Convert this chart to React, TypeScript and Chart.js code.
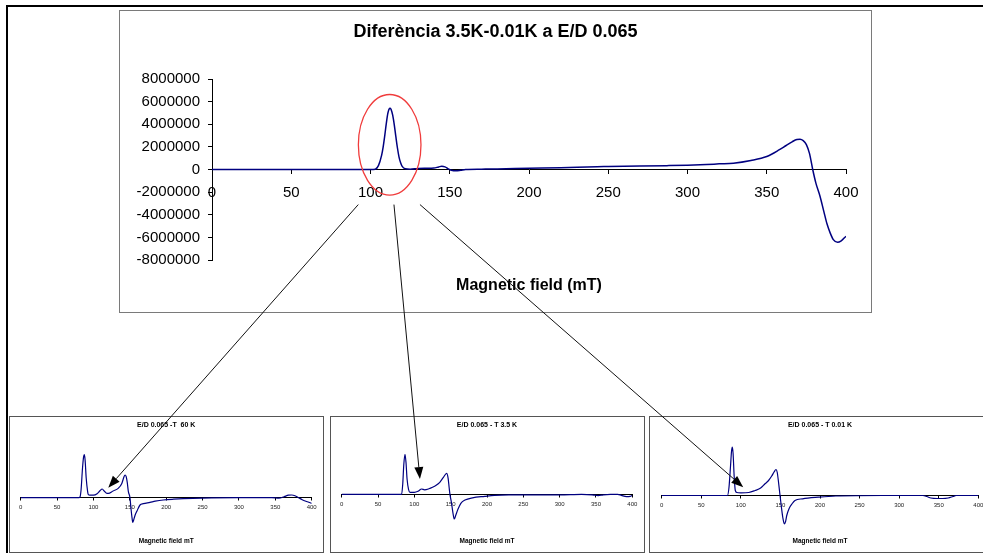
import React, { useEffect, useRef } from 'react';
import { Chart, registerables } from 'chart.js';

Chart.register(...registerables);

const FONT = '"Liberation Sans", Arial, Helvetica, sans-serif';
const NAVY = '#000080';

// ---------- main chart data ----------
const mainTitle = 'Diferència 3.5K-0.01K a E/D 0.065';
const mainAxisTitle = 'Magnetic field (mT)';
const mainXMin = 0;
const mainXMax = 400;
const mainXStep = 50;
const mainYMin = -8000000;
const mainYMax = 8000000;
const mainYStep = 2000000;

const mainField = [
  0, 50, 100, 103, 105, 107, 108, 109, 110, 111, 112, 112.5, 113, 114, 115, 116, 117, 118, 119, 120, 122, 125,
  130, 135, 140, 143, 145, 147, 149, 151, 154, 157, 160, 170, 180, 200, 220, 243, 250, 270, 287, 300, 312, 320, 329,
  340, 350, 358, 362, 366, 369, 371, 373, 375, 377, 379, 381, 383.6, 386, 388, 390, 392, 394.7, 397, 400,
];
const mainSignal = [
  0, 0, 0, 30000, 340000, 1250000, 2000000, 3000000, 4100000, 5000000, 5400000, 5420000, 5300000, 4800000, 3950000,
  2900000, 1900000, 1100000, 600000, 280000, 60000, 20000,
  90000, 110000, 130000, 230000, 290000, 230000, 60000, -60000, -115000, -60000, 0, 30000, 50000, 110000, 160000,
  250000, 260000, 300000, 340000, 380000, 440000, 500000, 560000,
  800000, 1150000, 1750000, 2100000, 2450000, 2650000, 2670000, 2550000, 2200000, 1400000, 0,
  -1200000, -2360000, -3700000, -4800000, -5600000, -6200000, -6440000, -6300000, -5900000,
];

// red ellipse highlighting the peak (data units of the main chart)
const ellipseCenterField = 112.1;
const ellipseCenterSignal = 2180000;
const ellipseHalfWidthField = 19.75;
const ellipseHalfHeightSignal = 4450000;

// ---------- small charts data (arbitrary units) ----------
const smallTitles = ['E/D 0.065 -T  60 K', 'E/D 0.065 - T 3.5 K', 'E/D 0.065 - T 0.01 K'];
const smallAxisTitle = 'Magnetic field mT';

const field60K = [
  0, 80, 81.6, 83, 85, 86.5, 87.4, 88.5, 90, 92, 93, 95, 100, 105, 109, 112, 115, 118, 120.4, 127, 134, 139,
  142, 143.4, 145, 146.5, 148, 150.2, 151.5, 153, 154, 155, 157, 160, 164, 168.5, 177.7, 185, 196, 210, 223.5, 300,
  345, 355, 362, 368, 372.5, 377, 382, 387, 392, 396, 400,
];
const signal60K = [
  0, 0, 1, 8, 30, 41, 43, 38, 20, 6, 3, 2.5, 2.5, 4, 7, 8.7, 6.5, 4.5, 4.3, 6.7, 9.3, 14.3,
  21, 22.7, 21, 15, 6, 0, -10, -20, -24.6, -23, -18, -13, -7.3, -6, -4.7, -3.5, -2.3, -1.5, -1, 0,
  0, -0.5, 1, 2.5, 2.7, 2, 0, -2, -3.5, -4.5, -5.7,
];

const field3p5K = [
  0, 82.5, 84, 85.5, 87.1, 88.5, 90, 92, 94, 100, 105, 110, 114, 120, 125, 130, 135, 140, 144.5, 146.5, 148, 149,
  151, 153, 155, 157, 160, 164, 169.7, 180, 197, 210, 230, 300, 330, 345, 353, 360, 370, 380, 385, 392, 397, 400,
];
const signal3p5K = [
  0, 0, 10, 30, 40, 32, 15, 5, 2, 2, 3, 5.3, 4.5, 5.5, 7, 9, 12, 17, 21, 16, 6, 0,
  -8, -18, -24.7, -21, -15, -9, -5.7, -3.5, -2, -1, -0.5, -0.5, 0, -0.5, -1.3, -0.5, 0, 0, -1, -2.3, -2, -1,
];

const field0p01K = [
  0, 83, 85, 87, 88.2, 89.2, 90.2, 91.5, 93, 95, 100, 110, 118, 125, 130.5, 135, 139, 142, 144.4, 146, 147.5,
  149.5, 151, 153, 154.9, 156.5, 158, 161, 165, 168.4, 178, 197.8, 220, 280, 330, 335, 340, 348, 355, 362, 368,
  372, 400,
];
const signal0p01K = [
  0, 0, 8, 30, 44, 48.3, 42, 20, 5, 3, 2.7, 3, 5, 7.5, 11.7, 15, 19.5, 23.5, 26, 23, 14,
  0, -10, -22, -28.3, -26, -20, -13, -8, -5, -3.3, -1.7, -0.5, 0, 0, -1, -2.5, -3, -3, -2.5, -1,
  0, 0,
];

// arrows from the main chart to the small charts
const arrowFromField = [92.3, 114.8, 131.2];
const arrowFromSignal = -3100000;
const arrowToField = [120.4, 107.7, 103];
const arrowToSignal = [10, 15.3, 8.3];

const smallSeries = [
  { field: field60K, signal: signal60K },
  { field: field3p5K, signal: signal3p5K },
  { field: field0p01K, signal: signal0p01K },
];

// ---------- layout (page geometry) ----------
const MAIN_BOX = { left: 119, top: 10, width: 753, height: 303 };
const SMALL_BOXES = [
  { left: 9, top: 416, width: 315, height: 137, padL: 10.7, padR: 11.3, axisY: 80.7 },
  { left: 330, top: 416, width: 315, height: 137, padL: 10.7, padR: 11.7, axisY: 77.3 },
  { left: 649, top: 416, width: 345, height: 137, padL: 11.7, padR: 14.7, axisY: 78.5 },
];
const SMALL_AREA_TOP = 18;
const SMALL_AREA_BOTTOM = 112;

function toPoints(xs: number[], ys: number[]) {
  return xs.map((x, i) => ({ x, y: ys[i] }));
}

const ellipsePlugin = {
  id: 'peakEllipse',
  afterDatasetsDraw(chart: any) {
    const { ctx, scales } = chart;
    const cx = scales.x.getPixelForValue(ellipseCenterField);
    const cy = scales.y.getPixelForValue(ellipseCenterSignal);
    const rx = Math.abs(scales.x.getPixelForValue(ellipseCenterField + ellipseHalfWidthField) - cx);
    const ry = Math.abs(scales.y.getPixelForValue(ellipseCenterSignal + ellipseHalfHeightSignal) - cy);
    ctx.save();
    ctx.beginPath();
    ctx.ellipse(cx, cy, rx, ry, 0, 0, Math.PI * 2);
    ctx.strokeStyle = '#f03c3c';
    ctx.lineWidth = 1.3;
    ctx.stroke();
    ctx.restore();
  },
};

function mainConfig(): any {
  return {
    type: 'line',
    data: {
      datasets: [
        {
          data: toPoints(mainField, mainSignal),
          borderColor: NAVY,
          borderWidth: 1.5,
          pointRadius: 0,
          fill: false,
          cubicInterpolationMode: 'monotone',
          xAxisID: 'x',
          yAxisID: 'y',
        },
      ],
    },
    options: {
      animation: false,
      responsive: false,
      layout: { padding: { left: 0, right: 0, top: 0, bottom: 0 } },
      plugins: {
        legend: { display: false },
        tooltip: { enabled: false },
        title: {
          display: true,
          text: mainTitle,
          color: '#000',
          font: { family: FONT, size: 18, weight: 'bold' },
          padding: { top: 10.6, bottom: 35.8 },
        },
        subtitle: {
          display: true,
          text: mainAxisTitle,
          position: 'bottom',
          fullSize: false,
          color: '#000',
          font: { family: FONT, size: 16, weight: 'bold' },
          padding: { top: 16.4, bottom: 16.4 },
        },
      },
      scales: {
        x: {
          type: 'linear',
          min: mainXMin,
          max: mainXMax,
          position: { y: 0 },
          ticks: {
            stepSize: mainXStep,
            color: '#000',
            font: { family: FONT, size: 15 },
            padding: 10,
            maxRotation: 0,
          },
          grid: { drawOnChartArea: false, drawTicks: true, tickLength: 4, color: '#000' },
          border: { display: true, color: '#000', width: 1 },
        },
        y: {
          type: 'linear',
          min: mainYMin,
          max: mainYMax,
          position: 'left',
          afterFit: (s: any) => {
            s.width = 92;
          },
          ticks: {
            stepSize: mainYStep,
            color: '#000',
            font: { family: FONT, size: 15 },
            padding: 8,
            callback: (v: any) => String(v),
          },
          grid: { drawOnChartArea: false, drawTicks: true, tickLength: 4, color: '#000' },
          border: { display: true, color: '#000', width: 1 },
        },
        yr: {
          type: 'linear',
          position: 'right',
          min: mainYMin,
          max: mainYMax,
          afterFit: (s: any) => {
            s.width = 25;
          },
          ticks: { display: false },
          grid: { display: false, drawTicks: false },
          border: { display: false },
        },
      },
    },
    plugins: [ellipsePlugin],
  };
}

function smallConfig(i: number): any {
  const box = SMALL_BOXES[i];
  const series = smallSeries[i];
  const canvasH = box.height - 2;
  const titleSize = 7;
  const titleLH = titleSize * 1.2;
  const titleCenter = 8;
  const subSize = 6.5;
  const subLH = subSize * 1.2;
  const subCenter = 124;
  return {
    type: 'line',
    data: {
      datasets: [
        {
          data: toPoints(series.field, series.signal),
          borderColor: NAVY,
          borderWidth: 1.2,
          pointRadius: 0,
          fill: false,
          cubicInterpolationMode: 'monotone',
        },
      ],
    },
    options: {
      animation: false,
      responsive: false,
      layout: { padding: { left: box.padL, right: box.padR, top: 0, bottom: 0 } },
      plugins: {
        legend: { display: false },
        tooltip: { enabled: false },
        title: {
          display: true,
          text: smallTitles[i],
          color: '#000',
          font: { family: FONT, size: titleSize, weight: 'bold' },
          padding: { top: titleCenter - titleLH / 2, bottom: SMALL_AREA_TOP - titleCenter - titleLH / 2 },
        },
        subtitle: {
          display: true,
          text: smallAxisTitle,
          position: 'bottom',
          fullSize: false,
          color: '#000',
          font: { family: FONT, size: subSize, weight: 'bold' },
          padding: {
            top: subCenter - SMALL_AREA_BOTTOM - subLH / 2,
            bottom: canvasH - subCenter - subLH / 2,
          },
        },
      },
      scales: {
        x: {
          type: 'linear',
          min: 0,
          max: 400,
          position: { y: 0 },
          ticks: {
            stepSize: 50,
            color: '#222',
            font: { family: FONT, size: 6 },
            padding: 3.5,
            maxRotation: 0,
            autoSkip: false,
          },
          grid: { drawOnChartArea: false, drawTicks: true, tickLength: 2.5, color: '#000' },
          border: { display: true, color: '#000', width: 1 },
        },
        y: {
          type: 'linear',
          display: false,
          min: box.axisY - SMALL_AREA_BOTTOM,
          max: box.axisY - SMALL_AREA_TOP,
        },
      },
    },
  };
}

function drawArrows(overlay: HTMLCanvasElement, main: any, smalls: any[]) {
  const ctx = overlay.getContext('2d');
  if (!ctx) return;
  const base = overlay.getBoundingClientRect();
  const mr = main.canvas.getBoundingClientRect();
  ctx.clearRect(0, 0, overlay.width, overlay.height);
  for (let i = 0; i < arrowFromField.length; i++) {
    const sx = mr.left - base.left + main.scales.x.getPixelForValue(arrowFromField[i]);
    const sy = mr.top - base.top + main.scales.y.getPixelForValue(arrowFromSignal);
    const sc = smalls[i];
    const r = sc.canvas.getBoundingClientRect();
    const ex = r.left - base.left + sc.scales.x.getPixelForValue(arrowToField[i]);
    const ey = r.top - base.top + sc.scales.y.getPixelForValue(arrowToSignal[i]);
    const ang = Math.atan2(ey - sy, ex - sx);
    const headLen = 12;
    const headHalf = 4.5;
    const bx = ex - Math.cos(ang) * headLen;
    const by = ey - Math.sin(ang) * headLen;
    ctx.save();
    ctx.strokeStyle = '#111';
    ctx.lineWidth = 1;
    ctx.beginPath();
    ctx.moveTo(sx, sy);
    ctx.lineTo(bx, by);
    ctx.stroke();
    ctx.fillStyle = '#000';
    ctx.beginPath();
    ctx.moveTo(ex, ey);
    ctx.lineTo(bx + Math.sin(ang) * headHalf, by - Math.cos(ang) * headHalf);
    ctx.lineTo(bx - Math.sin(ang) * headHalf, by + Math.cos(ang) * headHalf);
    ctx.closePath();
    ctx.fill();
    ctx.restore();
  }
}

export default function App() {
  const mainRef = useRef<HTMLCanvasElement>(null);
  const s0 = useRef<HTMLCanvasElement>(null);
  const s1 = useRef<HTMLCanvasElement>(null);
  const s2 = useRef<HTMLCanvasElement>(null);
  const overlayRef = useRef<HTMLCanvasElement>(null);

  useEffect(() => {
    const charts: any[] = [];
    const main = new Chart(mainRef.current as HTMLCanvasElement, mainConfig());
    charts.push(main);
    const smallRefs = [s0, s1, s2];
    const smalls = smallRefs.map((r, i) => new Chart(r.current as HTMLCanvasElement, smallConfig(i)));
    charts.push(...smalls);
    if (overlayRef.current) drawArrows(overlayRef.current, main, smalls);
    return () => {
      charts.forEach((c) => c.destroy());
    };
  }, []);

  const smallRefs = [s0, s1, s2];

  return (
    <div
      style={{
        position: 'absolute',
        left: 0,
        top: 0,
        width: 983,
        height: 553,
        overflow: 'hidden',
        background: '#fff',
      }}
    >
      <div
        style={{
          position: 'absolute',
          left: 6,
          top: 5,
          width: 1000,
          height: 600,
          borderTop: '2px solid #000',
          borderLeft: '2px solid #000',
          boxSizing: 'border-box',
        }}
      />
      <div
        style={{
          position: 'absolute',
          left: MAIN_BOX.left,
          top: MAIN_BOX.top,
          width: MAIN_BOX.width,
          height: MAIN_BOX.height,
          border: '1px solid #7a7a7a',
          boxSizing: 'border-box',
          background: '#fff',
        }}
      >
        <canvas
          ref={mainRef}
          width={MAIN_BOX.width - 2}
          height={MAIN_BOX.height - 2}
          style={{ display: 'block', width: MAIN_BOX.width - 2, height: MAIN_BOX.height - 2 }}
        />
      </div>
      {SMALL_BOXES.map((b, i) => (
        <div
          key={i}
          style={{
            position: 'absolute',
            left: b.left,
            top: b.top,
            width: b.width,
            height: b.height,
            border: '1px solid #555',
            boxSizing: 'border-box',
            background: '#fff',
          }}
        >
          <canvas
            ref={smallRefs[i]}
            width={b.width - 2}
            height={b.height - 2}
            style={{ display: 'block', width: b.width - 2, height: b.height - 2 }}
          />
        </div>
      ))}
      <canvas
        ref={overlayRef}
        width={983}
        height={553}
        style={{ position: 'absolute', left: 0, top: 0, width: 983, height: 553, pointerEvents: 'none' }}
      />
    </div>
  );
}
